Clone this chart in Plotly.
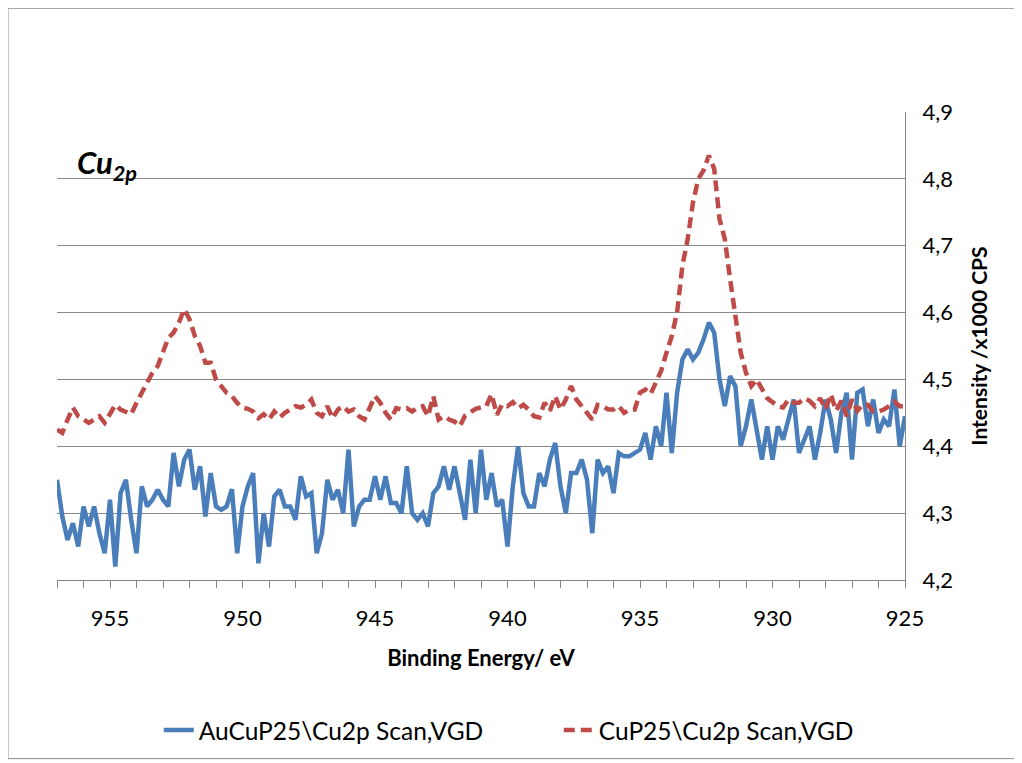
import numpy as np
import plotly.graph_objects as go

# Binding energy grid (eV), 957 -> 925 in 0.2 eV steps
energy = np.round(np.arange(957.0, 924.9, -0.2), 1)

au_cu_p25 = [
    4.35, 4.295, 4.26, 4.285, 4.25, 4.31, 4.28, 4.31, 4.27, 4.24,
    4.32, 4.22, 4.33, 4.35, 4.29, 4.24, 4.34, 4.31, 4.32, 4.335,
    4.32, 4.31, 4.39, 4.34, 4.38, 4.395, 4.335, 4.37, 4.295, 4.36,
    4.31, 4.305, 4.31,
    4.336, 4.24, 4.31, 4.34, 4.36, 4.225, 4.30, 4.25, 4.325, 4.335,
    4.31, 4.31, 4.29, 4.355, 4.325, 4.33, 4.24, 4.27, 4.35, 4.32,
    4.335, 4.30, 4.395, 4.28, 4.31, 4.32, 4.32, 4.355, 4.32, 4.355,
    4.315, 4.315,
    4.30, 4.37, 4.30, 4.29, 4.30, 4.28, 4.33, 4.34, 4.37, 4.335,
    4.37, 4.33, 4.29, 4.38, 4.30, 4.395, 4.32, 4.36, 4.31, 4.32,
    4.25, 4.34, 4.40, 4.33, 4.31, 4.31, 4.36, 4.34, 4.38, 4.405,
    4.34, 4.30,
    4.36, 4.36, 4.38, 4.35, 4.27, 4.38, 4.36, 4.37, 4.33, 4.39,
    4.385, 4.385, 4.39, 4.395, 4.42, 4.38, 4.43, 4.40, 4.48, 4.39,
    4.48, 4.53, 4.545, 4.53, 4.54, 4.56, 4.585, 4.57, 4.50, 4.46,
    4.505, 4.49,
    4.40, 4.43, 4.47, 4.42, 4.38, 4.43, 4.38, 4.43, 4.41, 4.44,
    4.47, 4.39, 4.41, 4.43, 4.38, 4.42, 4.47, 4.44, 4.39, 4.45,
    4.48, 4.38, 4.48, 4.485, 4.43, 4.47, 4.42, 4.44, 4.43, 4.485,
    4.40, 4.445,
]

cu_p25 = [
    4.425, 4.42, 4.44, 4.458, 4.445, 4.44, 4.435, 4.44, 4.445, 4.435,
    4.45, 4.462, 4.455, 4.452, 4.448, 4.465, 4.48, 4.495, 4.51, 4.52,
    4.54, 4.562, 4.57, 4.585, 4.605, 4.59, 4.565, 4.55, 4.525, 4.525,
    4.50, 4.49, 4.48,
    4.475, 4.465, 4.458, 4.456, 4.452, 4.442, 4.448, 4.44, 4.452, 4.443,
    4.45, 4.455, 4.46, 4.458, 4.462, 4.47, 4.45, 4.445, 4.46, 4.442,
    4.455, 4.46, 4.452, 4.455, 4.445, 4.44, 4.458, 4.475, 4.465, 4.45,
    4.44, 4.457,
    4.455, 4.457, 4.452, 4.458, 4.46, 4.445, 4.475, 4.44, 4.445, 4.44,
    4.437, 4.43, 4.446, 4.452, 4.456, 4.458, 4.46, 4.478, 4.447, 4.463,
    4.46, 4.466, 4.457, 4.462, 4.455, 4.445, 4.443, 4.465, 4.453, 4.475,
    4.455, 4.47,
    4.49, 4.47, 4.46, 4.45, 4.44, 4.462, 4.46, 4.455, 4.455, 4.46,
    4.45, 4.455, 4.455, 4.48, 4.485, 4.478, 4.495, 4.513, 4.54, 4.565,
    4.60, 4.67, 4.71, 4.765, 4.80, 4.813, 4.835, 4.815, 4.74, 4.71,
    4.65, 4.60,
    4.54, 4.51, 4.49, 4.50, 4.485, 4.472, 4.466, 4.46, 4.458, 4.47,
    4.465, 4.465, 4.472, 4.468, 4.46, 4.472, 4.455, 4.478, 4.453, 4.468,
    4.445, 4.47, 4.453, 4.462, 4.462, 4.452, 4.452, 4.455, 4.46, 4.467,
    4.46, 4.46,
]

series_names = ["AuCuP25\\Cu2p Scan,VGD", "CuP25\\Cu2p Scan,VGD"]
x_ticks = [955, 950, 945, 940, 935, 930, 925]
y_ticks = [4.2, 4.3, 4.4, 4.5, 4.6, 4.7, 4.8, 4.9]

FONT = "Lato, Open Sans, sans-serif"
GRID = "#888888"

fig = go.Figure()
fig.add_trace(go.Scatter(
    x=energy, y=au_cu_p25, mode="lines", name=series_names[0],
    line=dict(color="#4a7ebb", width=4.5),
))
fig.add_trace(go.Scatter(
    x=energy, y=cu_p25, mode="lines", name=series_names[1],
    line=dict(color="#be4b48", width=4.5, dash="11px,6px"),
))

fig.update_layout(
    width=1014, height=755,
    margin=dict(l=49, r=117, t=104, b=182),
    paper_bgcolor="white", plot_bgcolor="white",
    separators=",.",
    font=dict(family=FONT, size=20, color="#000000"),
    showlegend=True,
    legend=dict(orientation="h", x=0.12, xanchor="left", y=-0.318, yanchor="middle",
                font=dict(size=24.5), entrywidth=355, entrywidthmode="pixels",
                bgcolor="rgba(0,0,0,0)"),
    xaxis=dict(
        range=[957, 925], tickvals=x_ticks, ticks="outside", ticklen=7,
        tickcolor=GRID, showline=True, linecolor=GRID, linewidth=1,
        showgrid=False, zeroline=False,
        minor=dict(dtick=1, tick0=925, ticks="outside", ticklen=7, tickcolor=GRID, showgrid=False),
        tickfont=dict(size=22), ticklabelstandoff=12,
        title=dict(text="<b>Binding Energy/ eV</b>", font=dict(size=22), standoff=20),
    ),
    yaxis=dict(
        range=[4.2, 4.9], tickvals=y_ticks, tickformat=".1f", side="right",
        showline=True, linecolor=GRID, linewidth=1, ticks="",
        showgrid=True, gridcolor=GRID, gridwidth=1, zeroline=False,
        tickfont=dict(size=22), ticklabelstandoff=12,
        title=dict(text="<b>Intensity /x1000 CPS</b>", font=dict(size=21), standoff=20),
    ),
    annotations=[dict(
        text="<b><i>Cu<sub>2p</sub></i></b>", xref="paper", yref="paper",
        x=0.021, y=0.887, xanchor="left", yanchor="middle", showarrow=False,
        font=dict(size=31, family=FONT),
    )],
    shapes=[dict(
        type="rect", xref="paper", yref="paper",
        x0=-0.0578, x1=1.1297, y0=-0.3817, y1=1.2217,
        line=dict(color="#8c8c8c", width=1), layer="below",
    )],
)

fig.write_html("out.html")
